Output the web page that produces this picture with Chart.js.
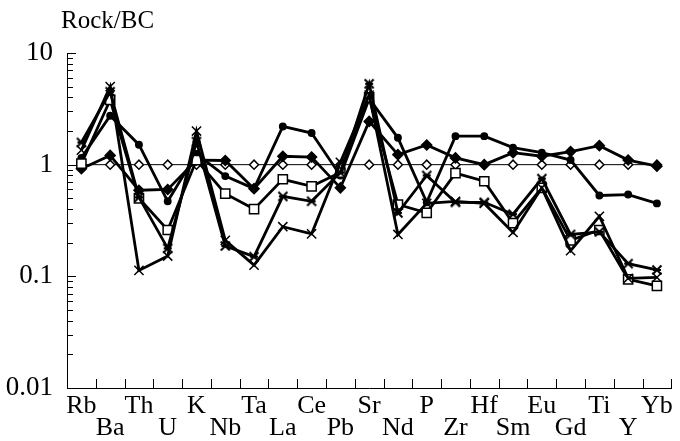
<!DOCTYPE html>
<html>
<head>
<meta charset="utf-8">
<script src="https://cdn.jsdelivr.net/npm/chart.js@4.4.1/dist/chart.umd.min.js"></script>
<style>
  body { margin: 0; background: #fff; }
</style>
</head>
<body>
<canvas id="myChart" width="680" height="441"></canvas>
<script>
// elements along the x axis
var elements = ['Rb', 'Ba', 'Th', 'U', 'K', 'Nb', 'Ta', 'La', 'Ce', 'Pb', 'Sr',
                'Nd', 'P', 'Zr', 'Hf', 'Sm', 'Eu', 'Gd', 'Ti', 'Y', 'Yb'];
var yTicks = [0.01, 0.1, 1, 10];

// Rock/BC values
var bcRef    = [1, 1, 1, 1, 1, 1, 1, 1, 1, 1, 1, 1, 1, 1, 1, 1, 1, 1, 1, 1, 1];
var dotVals  = [1.15, 2.74, 1.51, 0.47, 1.25, 0.79, 0.61, 2.2, 1.92, 0.8, 3.9,
                1.74, 0.46, 1.8, 1.8, 1.42, 1.28, 1.1, 0.53, 0.54, 0.45];
var diaVals  = [0.92, 1.21, 0.59, 0.6, 1.1, 1.09, 0.61, 1.19, 1.17, 0.62, 2.44,
                1.23, 1.5, 1.15, 1.0, 1.28, 1.19, 1.31, 1.48, 1.1, 0.97];
var sqVals   = [1.02, 3.8, 0.5, 0.26, 1.1, 0.55, 0.40, 0.74, 0.64, 0.85, 4.0,
                0.44, 0.37, 0.84, 0.71, 0.30, 0.62, 0.21, 0.26, 0.094, 0.082];
var astVals  = [1.58, 4.5, 0.51, 0.178, 1.61, 0.187, 0.15, 0.52, 0.47, 0.85, 5.3,
                0.37, 0.8, 0.46, 0.46, 0.36, 0.75, 0.237, 0.25, 0.13, 0.114];
var crossVals = [1.35, 5.0, 0.113, 0.152, 2.0, 0.21, 0.126, 0.278, 0.24, 1.05, 4.2,
                 0.237, 0.45, 0.47, 0.45, 0.247, 0.62, 0.17, 0.345, 0.096, 0.098];

// asterisk-like marker: an X with a bar through it
var astImg = document.createElement('canvas');
astImg.width = 12; astImg.height = 12;
(function () {
  var c = astImg.getContext('2d');
  c.strokeStyle = '#000';
  c.lineWidth = 2;
  c.beginPath();
  c.moveTo(1.5, 1.5); c.lineTo(10.5, 10.5);
  c.moveTo(10.5, 1.5); c.lineTo(1.5, 10.5);
  c.moveTo(2, 6); c.lineTo(10, 6);
  c.stroke();
})();

var serif = '"Liberation Serif", "Times New Roman", serif';

// inward tick marks + the axis caption
var axisTicks = {
  id: 'axisTicks',
  afterDraw: function (chart) {
    var ctx = chart.ctx, xs = chart.scales.x, ys = chart.scales.y, area = chart.chartArea;
    ctx.save();
    ctx.strokeStyle = '#000';
    ctx.lineWidth = 1;
    ctx.beginPath();
    [0.01, 0.1, 1].forEach(function (d) {
      for (var m = 1; m <= 9; m++) {
        var py = Math.round(ys.getPixelForValue(d * m)) + 0.5;
        var len = m === 1 ? 9 : 6;
        ctx.moveTo(area.left, py);
        ctx.lineTo(area.left + len, py);
      }
    });
    var top = Math.round(ys.getPixelForValue(10)) + 0.5;
    ctx.moveTo(area.left, top);
    ctx.lineTo(area.left + 9, top);
    for (var i = 0; i < elements.length; i++) {
      var px = Math.round(xs.getPixelForValue(i + 0.5)) + 0.5;
      ctx.moveTo(px, area.bottom);
      ctx.lineTo(px, area.bottom - 9);
    }
    ctx.stroke();
    ctx.fillStyle = '#000';
    ctx.font = '25px ' + serif;
    ctx.textBaseline = 'alphabetic';
    ctx.fillText('Rock/BC', 61, 28);
    ctx.restore();
  }
};

function series(vals, style, radius, fill, lineW, ord) {
  return {
    data: vals,
    borderColor: '#000',
    borderWidth: lineW,
    pointStyle: style,
    pointRadius: radius,
    pointBackgroundColor: fill,
    pointBorderColor: '#000',
    pointBorderWidth: 1.5,
    tension: 0,
    order: ord
  };
}

var ctx = document.getElementById('myChart').getContext('2d');
var myChart = new Chart(ctx, {
  type: 'line',
  data: {
    labels: elements,
    datasets: [
      series(bcRef, 'rectRot', 4.5, '#fff', 1, 10),
      series(dotVals, 'circle', 3.2, '#000', 2.8, 5),
      series(diaVals, 'rectRot', 5, '#000', 2.8, 4),
      series(sqVals, 'rect', 6.5, '#fff', 2.8, 3),
      series(crossVals, 'crossRot', 6.5, '#fff', 2.8, 2),
      series(astVals, astImg, 6, '#fff', 2.8, 1)
    ]
  },
  plugins: [axisTicks],
  options: {
    responsive: false,
    animation: false,
    events: [],
    layout: { padding: { top: 53, right: 8, left: 0, bottom: 0 } },
    plugins: { legend: { display: false }, tooltip: { enabled: false } },
    scales: {
      x: {
        type: 'category',
        offset: true,
        grid: { display: false, drawTicks: false },
        border: { display: true, color: '#000', width: 1 },
        afterFit: function (s) { s.height = 53; },
        ticks: {
          autoSkip: false,
          maxRotation: 0,
          padding: 7,
          color: '#000',
          font: { family: serif, size: 26, lineHeight: 0.85 },
          callback: function (v, i) {
            return i % 2 === 0 ? elements[i] : ['', elements[i]];
          }
        }
      },
      y: {
        type: 'logarithmic',
        min: 0.01,
        max: 10,
        grid: { display: false, drawTicks: false },
        border: { display: true, color: '#000', width: 1 },
        afterFit: function (s) { s.width = 67; },
        afterBuildTicks: function (s) {
          s.ticks = yTicks.map(function (v) { return { value: v }; });
        },
        ticks: {
          padding: 14,
          color: '#000',
          font: { family: serif, size: 27 },
          callback: function (v) { return String(v); }
        }
      }
    }
  }
});
</script>
</body>
</html>
